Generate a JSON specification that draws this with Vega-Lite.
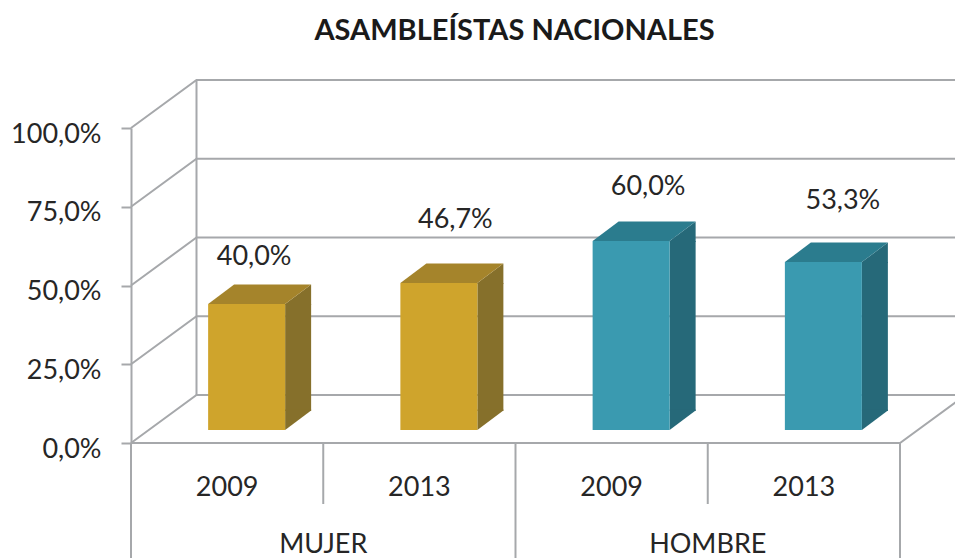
{
"$schema":"https://vega.github.io/schema/vega-lite/v6.json",
"width":769,"height":315,
"autosize":"none",
"padding":{"left":131,"top":128,"right":55,"bottom":115},
"background":"#ffffff",
"title":{"text":"ASAMBLEÍSTAS NACIONALES","font":"Lato","fontSize":29,"fontWeight":"bold","color":"#1a1a1a","anchor":"middle","offset":16,"baseline":"middle","dx":-1},
"config":{"view":{"stroke":null},"font":"Lato"},
"datasets":{
"bars":[
{"key":"MUJER 2009","group":"MUJER","value":40.0,"label":"40,0%"},
{"key":"MUJER 2013","group":"MUJER","value":46.7,"label":"46,7%"},
{"key":"HOMBRE 2009","group":"HOMBRE","value":60.0,"label":"60,0%"},
{"key":"HOMBRE 2013","group":"HOMBRE","value":53.3,"label":"53,3%"}
],
"walls":[
{"key":"MUJER 2009","value":0},{"key":"MUJER 2009","value":25},{"key":"MUJER 2009","value":50},{"key":"MUJER 2009","value":75},{"key":"MUJER 2009","value":100}
],
"groups":[
{"key":"MUJER 2013","group":"MUJER","value":0},
{"key":"HOMBRE 2013","group":"HOMBRE","value":0}
]
},
"encoding":{
"x":{"field":"key","type":"nominal","sort":null,
"scale":{"type":"band","domain":["MUJER 2009","MUJER 2013","HOMBRE 2009","HOMBRE 2013"],"paddingInner":0,"paddingOuter":0},
"axis":{"title":null,"ticks":false,"domain":false,"labelAngle":0,"labelPadding":44,"labelFont":"Lato","labelFontSize":27,"labelColor":"#262626","labelBaseline":"middle","labelExpr":"split(datum.label,' ')[1]"}},
"y":{"field":"value","type":"quantitative",
"scale":{"domain":[0,100],"nice":false,"zero":true},
"axis":{"title":null,"values":[0,25,50,75,100],"grid":false,"domainColor":"#A6A8AB","domainWidth":2,"tickColor":"#A6A8AB","tickWidth":2,"tickSize":10,"labelPadding":20,"labelOffset":6,"labelFont":"Lato","labelFontSize":27,"labelColor":"#262626","labelExpr":"replace(format(datum.value,'.1f'),'.',',')+'%'"}}
},
"layer":[
{"data":{"name":"walls"},
 "mark":{"type":"point","shape":"M0,0L65.5,-48L830,-48","size":4,"filled":false,"stroke":"#A6A8AB","strokeWidth":2,"opacity":1},
 "encoding":{"x":{"field":"key","type":"nominal","bandPosition":0}}},
{"data":{"name":"walls"},"transform":[{"filter":"datum.value==0"}],
 "mark":{"type":"point","shape":"M65.5,-48L65.5,-363M0,0L769,0L825,-41","size":4,"filled":false,"stroke":"#A6A8AB","strokeWidth":2,"opacity":1},
 "encoding":{"x":{"field":"key","type":"nominal","bandPosition":0}}},
{"data":{"name":"bars"},"transform":[{"filter":"datum.key=='MUJER 2013'||datum.key=='HOMBRE 2013'"}],
 "mark":{"type":"point","shape":"M0,0L0,61","size":4,"filled":false,"stroke":"#A6A8AB","strokeWidth":2,"opacity":1},
 "encoding":{"x":{"field":"key","type":"nominal","bandPosition":0},"y":{"datum":0,"type":"quantitative"}}},
{"data":{"name":"bars"},"transform":[{"filter":"datum.key=='MUJER 2009'||datum.key=='HOMBRE 2009'"}],
 "mark":{"type":"point","shape":"M0,0L0,115","size":4,"filled":false,"stroke":"#A6A8AB","strokeWidth":2,"opacity":1},
 "encoding":{"x":{"field":"key","type":"nominal","bandPosition":0},"y":{"datum":0,"type":"quantitative"}}},
{"data":{"name":"bars"},"transform":[{"filter":"datum.key=='HOMBRE 2013'"}],
 "mark":{"type":"point","shape":"M0,0L0,115","size":4,"filled":false,"stroke":"#A6A8AB","strokeWidth":2,"opacity":1},
 "encoding":{"x":{"field":"key","type":"nominal","bandPosition":1},"y":{"datum":0,"type":"quantitative"}}},
{"data":{"name":"bars"},
 "mark":{"type":"bar","width":26,"xOffset":71,"yOffset":-13,"y2Offset":-32,"cornerRadius":0},
 "encoding":{"y2":{"datum":0},"color":{"field":"group","type":"nominal","legend":null,"scale":{"domain":["MUJER","HOMBRE"],"range":["#86702B","#266979"]}}}},
{"data":{"name":"bars"},
 "mark":{"type":"point","shape":"M77,1L77,0L103,-19.5L103,1Z","size":4,"filled":true,"opacity":1,"xOffset":-19,"yOffset":-13},
 "encoding":{"color":{"field":"group","type":"nominal","legend":null,"scale":{"domain":["MUJER","HOMBRE"],"range":["#86702B","#266979"]}}}},
{"data":{"name":"bars"},
 "mark":{"type":"point","shape":"M77,0L103,-19.5L103,-20.5L77,-20.5Z","size":4,"filled":true,"opacity":1,"xOffset":-19,"yOffset":-13},
 "encoding":{"y":{"datum":0,"type":"quantitative"},"color":{"field":"group","type":"nominal","legend":null,"scale":{"domain":["MUJER","HOMBRE"],"range":["#86702B","#266979"]}}}},
{"data":{"name":"bars"},
 "mark":{"type":"point","shape":"M0,0L77,0L103,-19.5L26,-19.5Z","size":4,"filled":true,"opacity":1,"xOffset":-19,"yOffset":-13},
 "encoding":{"color":{"field":"group","type":"nominal","legend":null,"scale":{"domain":["MUJER","HOMBRE"],"range":["#A5842B","#2B7C8E"]}}}},
{"data":{"name":"bars"},
 "mark":{"type":"bar","width":77,"xOffset":19.5,"yOffset":-13,"y2Offset":-13,"cornerRadius":0},
 "encoding":{"y2":{"datum":0},"color":{"field":"group","type":"nominal","legend":null,"scale":{"domain":["MUJER","HOMBRE"],"range":["#CFA42C","#3A9AB0"]}}}},
{"data":{"name":"bars"},"transform":[{"filter":"datum.key=='MUJER 2009'"}],
 "mark":{"type":"text","font":"Lato","fontSize":27,"color":"#262626","align":"center","baseline":"middle","xOffset":27,"yOffset":-60},
 "encoding":{"text":{"field":"label"}}},
{"data":{"name":"bars"},"transform":[{"filter":"datum.key=='MUJER 2013'"}],
 "mark":{"type":"text","font":"Lato","fontSize":27,"color":"#262626","align":"center","baseline":"middle","xOffset":36,"yOffset":-76},
 "encoding":{"text":{"field":"label"}}},
{"data":{"name":"bars"},"transform":[{"filter":"datum.key=='HOMBRE 2009'"}],
 "mark":{"type":"text","font":"Lato","fontSize":27,"color":"#262626","align":"center","baseline":"middle","xOffset":36.5,"yOffset":-67},
 "encoding":{"text":{"field":"label"}}},
{"data":{"name":"bars"},"transform":[{"filter":"datum.key=='HOMBRE 2013'"}],
 "mark":{"type":"text","font":"Lato","fontSize":27,"color":"#262626","align":"center","baseline":"middle","xOffset":39,"yOffset":-74.5},
 "encoding":{"text":{"field":"label"}}},
{"data":{"name":"groups"},
 "mark":{"type":"text","font":"Lato","fontSize":27,"color":"#262626","align":"center","baseline":"middle","yOffset":102},
 "encoding":{"x":{"field":"key","type":"nominal","bandPosition":0},"text":{"field":"group"}}}
],
"resolve":{"scale":{"color":"independent"}}
}
